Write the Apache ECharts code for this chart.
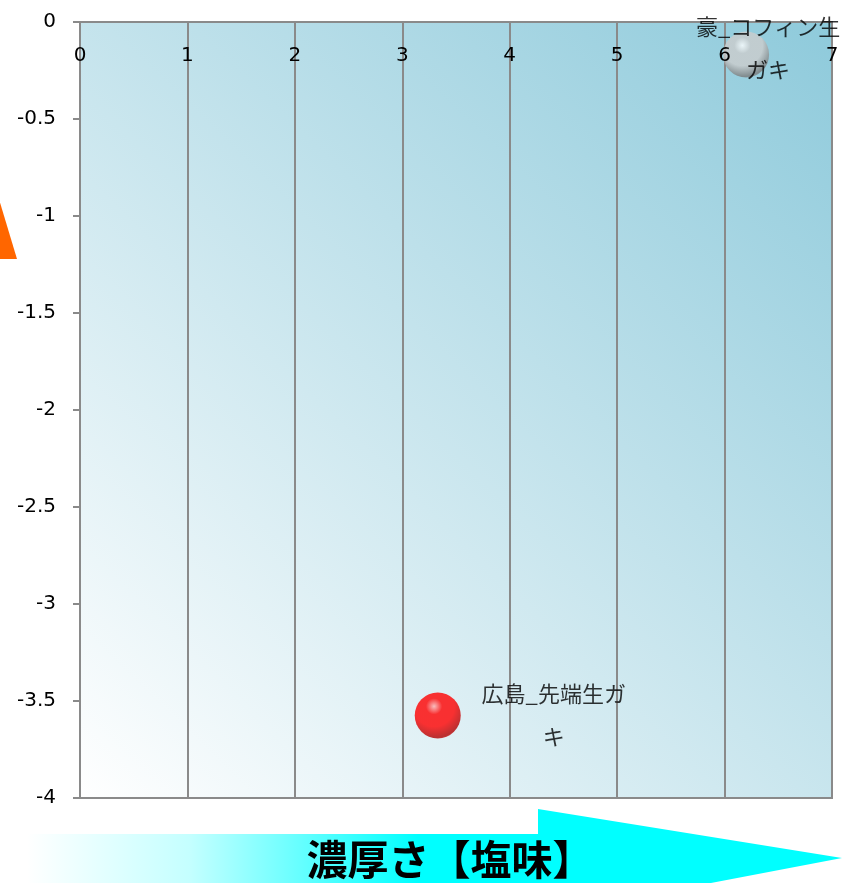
<!DOCTYPE html>
<html>
<head>
<meta charset="utf-8">
<script src="https://cdn.jsdelivr.net/npm/echarts@6/dist/echarts.min.js"></script>
<style>html,body{margin:0;padding:0;background:#fff;}#main{width:842px;height:883px;}</style>
</head>
<body>
<div id="main"></div>
<script>
// Data
var pointNames = ['広島_先端生ガキ', '豪_コフィン生ガキ'];
var saltiness = [3.33, 6.2];      // 濃厚さ【塩味】 (x)
var otherAxis = [-3.575, -0.168]; // y
var xTicks = [0, 1, 2, 3, 4, 5, 6, 7];
var yTicks = [0, -0.5, -1, -1.5, -2, -2.5, -3, -3.5, -4];
var xTitle = '濃厚さ【塩味】';

// styling (not data)
var labelOffsets = [[116, 0], [22, -6]];
var sphereColors = [
  {hi: '#ffb0b0', mid: '#ff0000', edge: '#b00000', rim: '#ff2020'},
  {hi: '#ffffff', mid: '#cccccc', edge: '#7a7a7a', rim: '#a8a8a8'}
];

var chart = echarts.init(document.getElementById('main'), null, {renderer: 'canvas'});

function sphere(c) {
  return new echarts.graphic.RadialGradient(0.42, 0.3, 0.8, [
    {offset: 0, color: c.hi},
    {offset: 0.22, color: c.mid},
    {offset: 0.55, color: c.mid},
    {offset: 0.85, color: c.edge},
    {offset: 1, color: c.rim}
  ]);
}

var seriesData = pointNames.map(function (n, i) {
  return {
    name: n,
    value: [saltiness[i], otherAxis[i]],
    itemStyle: {color: sphere(sphereColors[i])},
    label: {offset: labelOffsets[i]}
  };
});

var xMin = xTicks[0], xMax = xTicks[xTicks.length - 1];

var option = {
  animation: false,
  grid: {
    left: 80, right: 10, top: 22, bottom: 85,
    show: true,
    borderColor: '#8a8a8a',
    borderWidth: 2,
    backgroundColor: new echarts.graphic.LinearGradient(0, 1, 1, 0, [
      {offset: 0, color: '#ffffff'},
      {offset: 1, color: '#8ecadb'}
    ])
  },
  xAxis: [{
    type: 'value',
    position: 'top',
    min: xMin,
    max: xMax,
    interval: 1,
    axisLine: {show: true, onZero: false, lineStyle: {color: '#8a8a8a', width: 2}},
    axisTick: {show: false},
    axisLabel: {show: false},
    splitLine: {show: true, lineStyle: {color: '#8a8a8a', width: 2}}
  }, {
    type: 'value',
    position: 'top',
    offset: 0,
    z: 5,
    min: xMin,
    max: xMax,
    interval: 1,
    axisLine: {show: false, onZero: false},
    axisTick: {show: false},
    axisLabel: {
      inside: true, margin: 24, color: '#000',
      fontFamily: 'DejaVu Sans', fontSize: 20,
      showMinLabel: true, showMaxLabel: true
    },
    splitLine: {show: false}
  }],
  yAxis: {
    type: 'value',
    min: yTicks[yTicks.length - 1],
    max: yTicks[0],
    interval: 0.5,
    axisLine: {show: true, onZero: false, lineStyle: {color: '#8a8a8a', width: 2}},
    axisTick: {show: true, length: 7, lineStyle: {color: '#8a8a8a', width: 2}},
    axisLabel: {
      margin: 24, color: '#000',
      fontFamily: 'DejaVu Sans', fontSize: 20
    },
    splitLine: {show: false}
  },
  series: [{
    type: 'scatter',
    xAxisIndex: 0,
    symbol: 'circle',
    symbolSize: 46,
    data: seriesData,
    label: {
      show: true,
      position: 'inside',
      align: 'center',
      verticalAlign: 'middle',
      color: '#000',
      textBorderWidth: 0,
      textBorderColor: 'transparent',
      fontFamily: 'Noto Sans CJK JP',
      fontSize: 22,
      lineHeight: 43,
      formatter: function (p) {
        var s = p.name;
        return s.length > 7 ? s.slice(0, 7) + '\n' + s.slice(7) : s;
      }
    }
  }],
  graphic: [
    {
      type: 'polygon',
      z: 0,
      shape: {points: [[-5, 186], [17, 259], [-30, 259]]},
      style: {fill: '#ff6600'}
    },
    {
      type: 'polygon',
      z: 0,
      shape: {points: [[27, 834], [538, 834], [538, 809], [842, 858], [538, 916], [538, 884], [27, 884]]},
      style: {
        fill: new echarts.graphic.LinearGradient(0, 0, 1, 0, [
          {offset: 0, color: '#ffffff'},
          {offset: 0.2, color: '#c4ffff'},
          {offset: 0.48, color: '#00ffff'},
          {offset: 1, color: '#00ffff'}
        ])
      }
    },
    {
      type: 'text',
      z: 10,
      x: 450,
      y: 859,
      style: {
        text: xTitle,
        fill: '#000',
        align: 'center',
        verticalAlign: 'middle',
        fontFamily: 'Noto Sans CJK JP',
        fontWeight: 'bold',
        fontSize: 41
      }
    }
  ]
};
chart.setOption(option);
</script>
</body>
</html>
